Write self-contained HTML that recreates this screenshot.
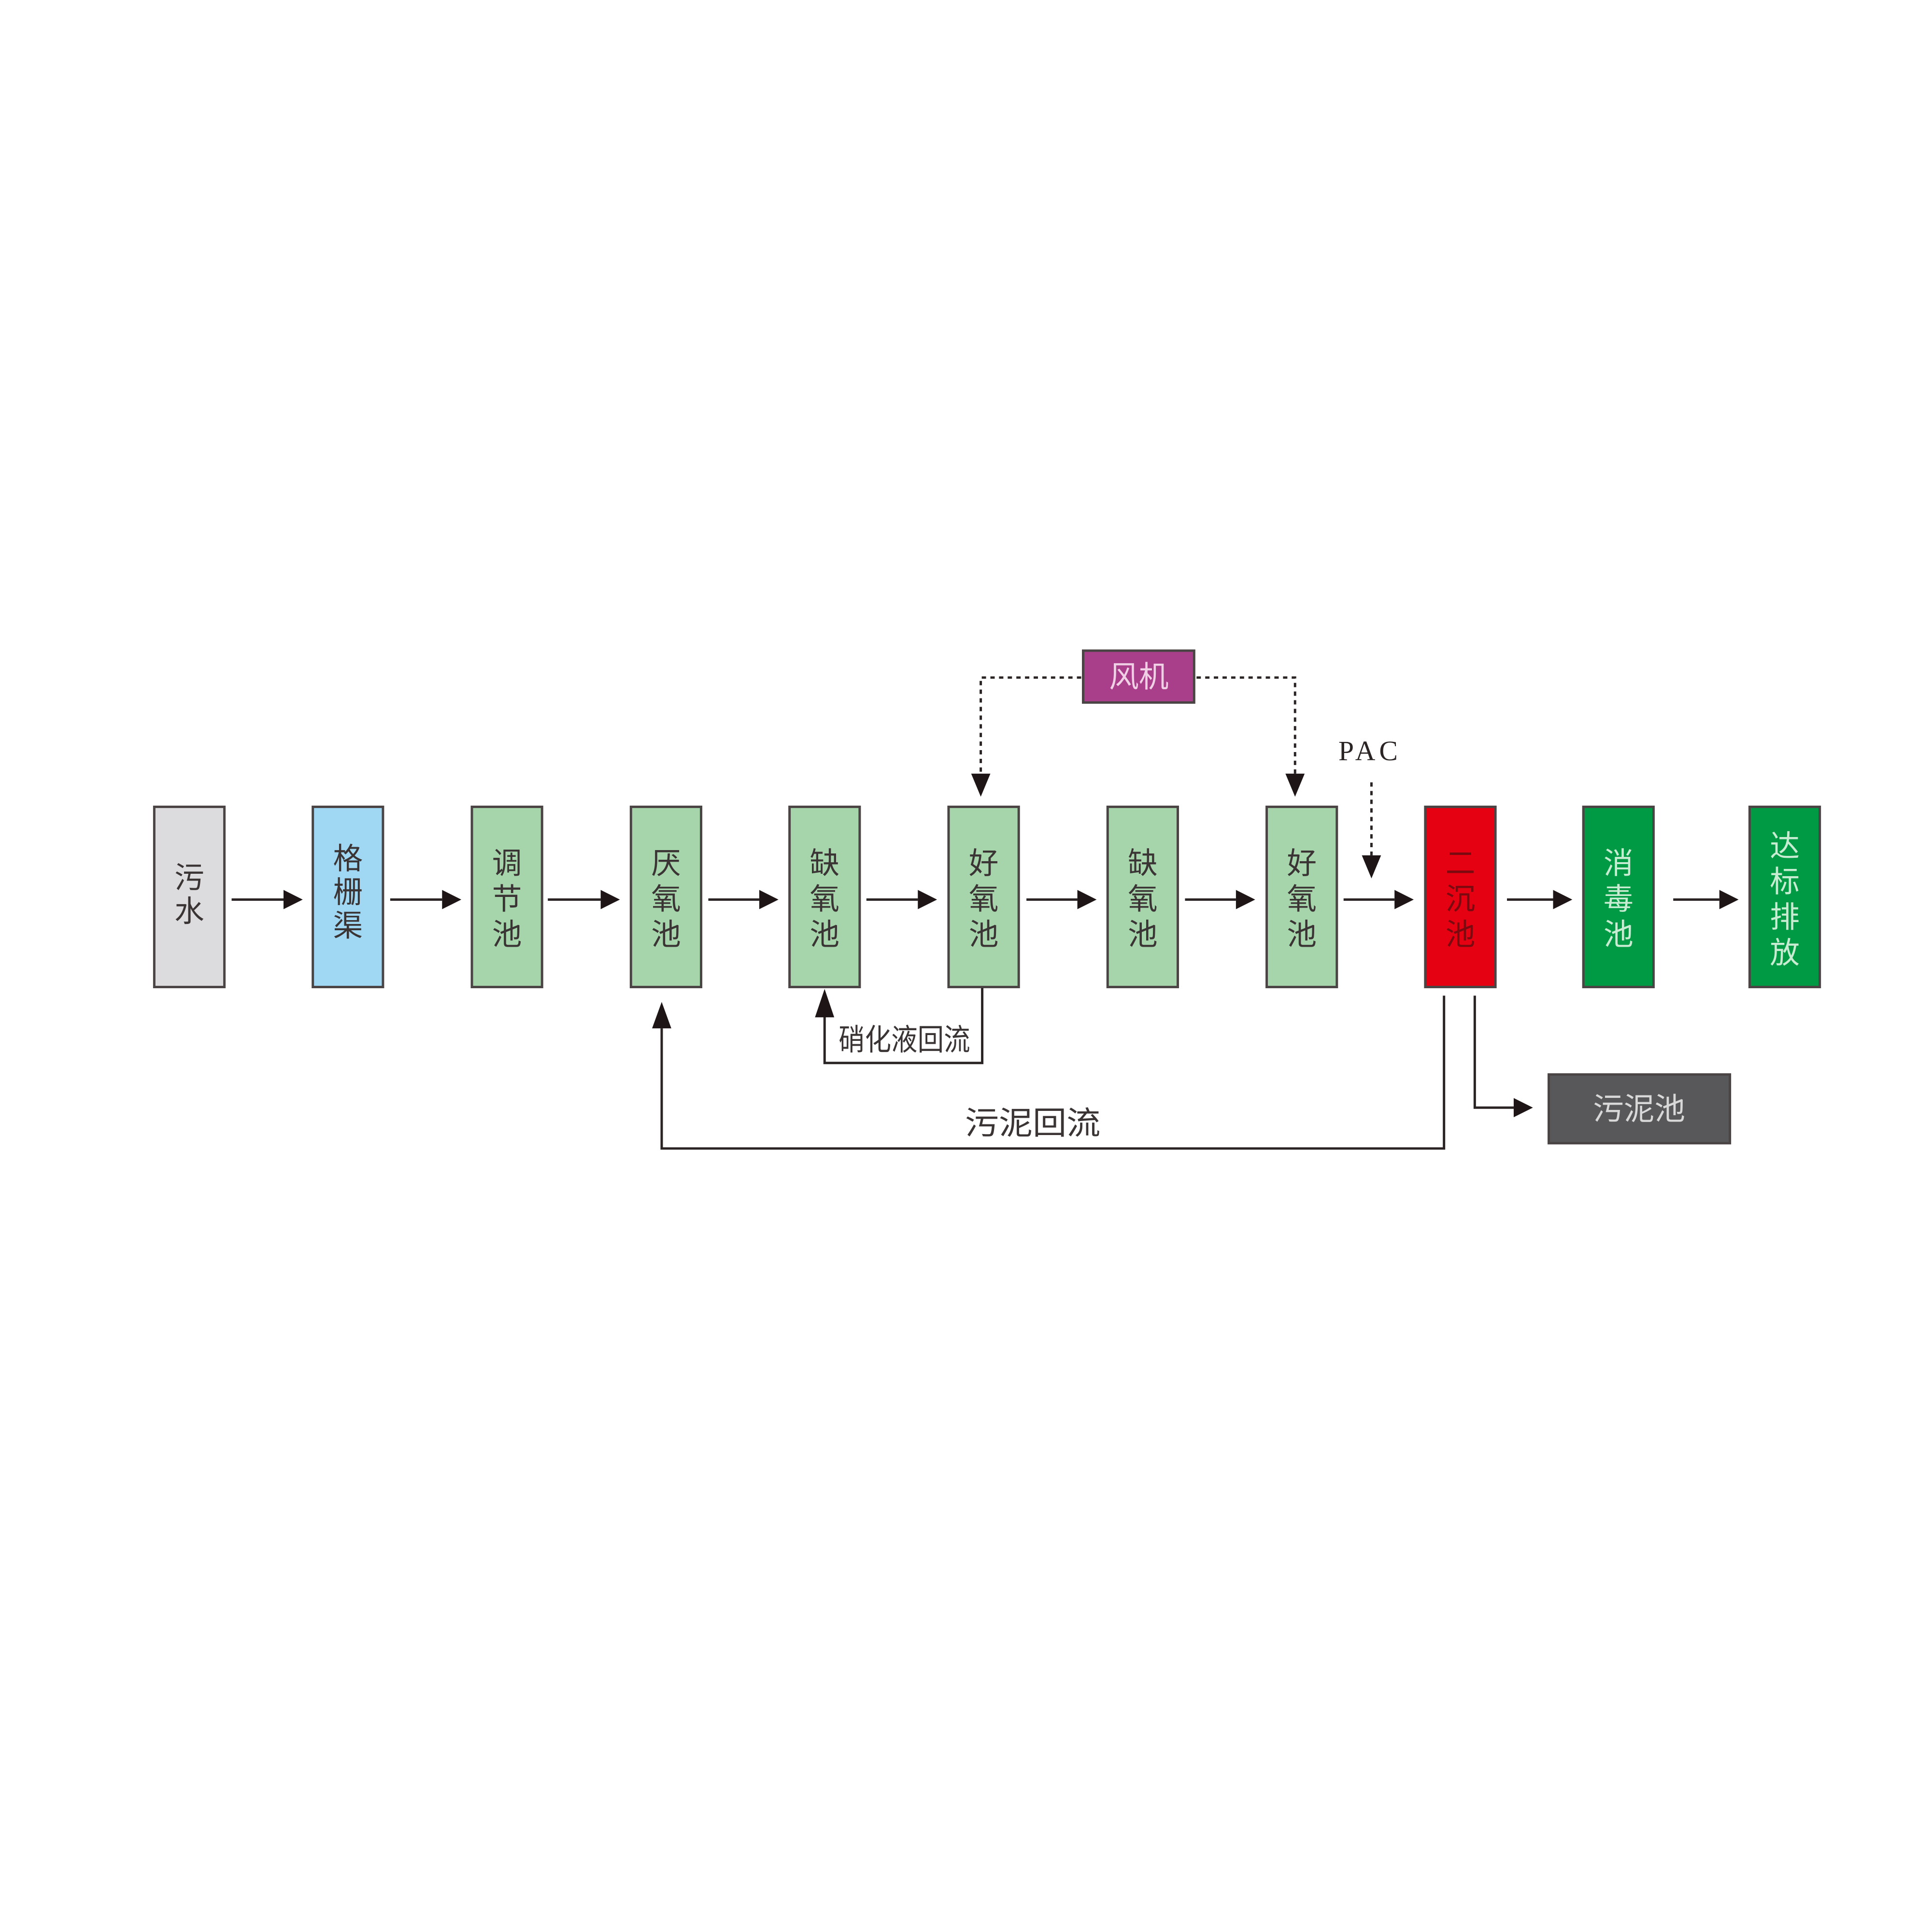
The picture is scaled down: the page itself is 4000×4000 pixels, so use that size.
<!DOCTYPE html>
<html><head><meta charset="utf-8"><style>html,body{margin:0;padding:0;background:#fff}svg{display:block}</style></head>
<body>
<svg width="4000" height="4000" viewBox="0 0 4000 4000" xmlns="http://www.w3.org/2000/svg" font-family="'Liberation Sans','Noto Sans CJK SC',sans-serif">
<rect width="4000" height="4000" fill="#fff"/>
<g transform="scale(0.9949)">
<g stroke="#4a4444" stroke-width="5">
<rect x="321" y="1679" width="146" height="375" fill="#dcdcde"/>
<rect x="651" y="1679" width="146" height="375" fill="#a0d8f4"/>
<rect x="982" y="1679" width="146" height="375" fill="#a6d5ab"/>
<rect x="1313" y="1679" width="146" height="375" fill="#a6d5ab"/>
<rect x="1643" y="1679" width="146" height="375" fill="#a6d5ab"/>
<rect x="1974" y="1679" width="146" height="375" fill="#a6d5ab"/>
<rect x="2305" y="1679" width="146" height="375" fill="#a6d5ab"/>
<rect x="2636" y="1679" width="146" height="375" fill="#a6d5ab"/>
<rect x="2966" y="1679" width="146" height="375" fill="#e50012"/>
<rect x="3295" y="1679" width="146" height="375" fill="#009a44"/>
<rect x="3641" y="1679" width="146" height="375" fill="#009a44"/>
<rect x="2254" y="1354" width="231" height="108" fill="#a93f8a"/>
<rect x="3223" y="2236" width="377" height="143" fill="#58585a"/>
</g>
<g font-size="62" text-anchor="middle" fill="#3a3434">
<text x="394" y="1848">污</text><text x="394" y="1918">水</text>
<text x="724" y="1808">格</text><text x="724" y="1878">栅</text><text x="724" y="1948">渠</text>
<text x="1055" y="1818">调</text><text x="1055" y="1892">节</text><text x="1055" y="1966">池</text>
<text x="1386" y="1818">厌</text><text x="1386" y="1892">氧</text><text x="1386" y="1966">池</text>
<text x="1716" y="1818">缺</text><text x="1716" y="1892">氧</text><text x="1716" y="1966">池</text>
<text x="2047" y="1818">好</text><text x="2047" y="1892">氧</text><text x="2047" y="1966">池</text>
<text x="2378" y="1818">缺</text><text x="2378" y="1892">氧</text><text x="2378" y="1966">池</text>
<text x="2709" y="1818">好</text><text x="2709" y="1892">氧</text><text x="2709" y="1966">池</text>
<text x="3039" y="1818" fill="#7a0a10">二</text><text x="3039" y="1892" fill="#7a0a10">沉</text><text x="3039" y="1966" fill="#7a0a10">池</text>
<text x="3368" y="1818" fill="#c8ecd2">消</text><text x="3368" y="1892" fill="#c8ecd2">毒</text><text x="3368" y="1966" fill="#c8ecd2">池</text>
<text x="3714" y="1782" fill="#c8ecd2">达</text><text x="3714" y="1856" fill="#c8ecd2">标</text><text x="3714" y="1930" fill="#c8ecd2">排</text><text x="3714" y="2004" fill="#c8ecd2">放</text>
<text x="2370" y="1430" fill="#f0d0e4">风机</text>
<text x="3411" y="2330" fill="#d8d8d8" font-size="64">污泥池</text>
</g>
<text x="2851" y="1582" font-size="58" text-anchor="middle" fill="#2a2424" letter-spacing="8" font-family="'Liberation Serif',serif">PAC</text>
<text x="1745" y="2185" font-size="62" textLength="274" lengthAdjust="spacingAndGlyphs" fill="#3a3434">硝化液回流</text>
<text x="2008" y="2360" font-size="66" textLength="282" lengthAdjust="spacingAndGlyphs" fill="#3a3434">污泥回流</text>
<g stroke="#2a2424" stroke-width="5" fill="none">
<line x1="482" y1="1872" x2="590" y2="1872"/>
<line x1="812" y1="1872" x2="920" y2="1872"/>
<line x1="1140" y1="1872" x2="1250" y2="1872"/>
<line x1="1474" y1="1872" x2="1580" y2="1872"/>
<line x1="1803" y1="1872" x2="1910" y2="1872"/>
<line x1="2136" y1="1872" x2="2242" y2="1872"/>
<line x1="2466" y1="1872" x2="2572" y2="1872"/>
<line x1="2796" y1="1872" x2="2902" y2="1872"/>
<line x1="3136" y1="1872" x2="3232" y2="1872"/>
<line x1="3482" y1="1872" x2="3578" y2="1872"/>
<polyline points="2044,2056 2044,2212 1716,2212 1716,2110"/>
<polyline points="3005,2072 3005,2390 1377,2390 1377,2140"/>
<polyline points="3069,2072 3069,2305 3150,2305"/>
</g>
<g stroke="#2a2424" stroke-width="5" fill="none" stroke-dasharray="9 9">
<polyline points="2250,1410 2041,1410 2041,1610"/>
<polyline points="2490,1410 2695,1410 2695,1610"/>
<line x1="2854" y1="1628" x2="2854" y2="1780"/>
</g>
<g fill="#1e1616">
<polygon points="590,1852 630,1872 590,1892"/>
<polygon points="920,1852 960,1872 920,1892"/>
<polygon points="1250,1852 1290,1872 1250,1892"/>
<polygon points="1580,1852 1620,1872 1580,1892"/>
<polygon points="1910,1852 1950,1872 1910,1892"/>
<polygon points="2242,1852 2282,1872 2242,1892"/>
<polygon points="2572,1852 2612,1872 2572,1892"/>
<polygon points="2902,1852 2942,1872 2902,1892"/>
<polygon points="3232,1852 3272,1872 3232,1892"/>
<polygon points="3578,1852 3618,1872 3578,1892"/>
<polygon points="3150,2285 3190,2305 3150,2325"/>
<polygon points="1696,2117 1716,2058 1736,2117"/>
<polygon points="1357,2140 1377,2085 1397,2140"/>
<polygon points="2021,1610 2041,1658 2061,1610"/>
<polygon points="2675,1610 2695,1658 2715,1610"/>
<polygon points="2834,1780 2854,1828 2874,1780"/>
</g>
</g>
</svg>
</body></html>
